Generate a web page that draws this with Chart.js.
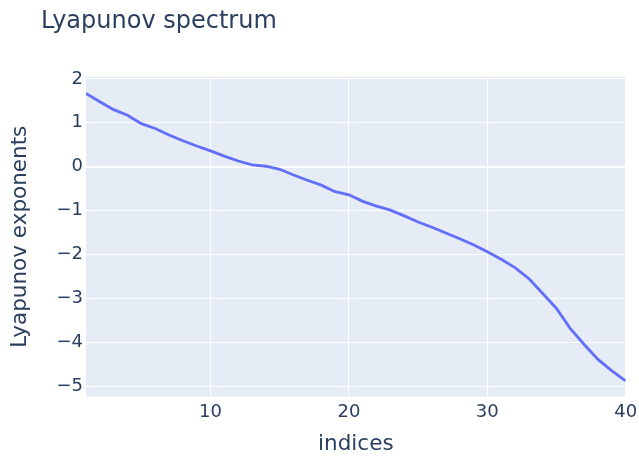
<!DOCTYPE html>
<html>
<head>
<meta charset="utf-8">
<script src="https://cdn.jsdelivr.net/npm/chart.js@4/dist/chart.umd.min.js"></script>
<style>
  html, body { margin: 0; padding: 0; background: #ffffff; }
  #wrap { width: 639px; height: 457px; }
</style>
</head>
<body>
<div id="wrap"><canvas id="c" width="639" height="457"></canvas></div>
<script>
// Lyapunov exponents, sorted from largest to smallest
const indices = [1, 2, 3, 4, 5, 6, 7, 8, 9, 10,
                 11, 12, 13, 14, 15, 16, 17, 18, 19, 20,
                 21, 22, 23, 24, 25, 26, 27, 28, 29, 30,
                 31, 32, 33, 34, 35, 36, 37, 38, 39, 40];
const exponents = [1.67, 1.48, 1.30, 1.17, 0.98, 0.87, 0.72, 0.59, 0.47, 0.36,
                   0.24, 0.13, 0.04, 0.01, -0.06, -0.19, -0.31, -0.42, -0.57, -0.64,
                   -0.79, -0.90, -0.99, -1.12, -1.26, -1.38, -1.51, -1.64, -1.78, -1.94,
                   -2.11, -2.30, -2.55, -2.89, -3.23, -3.69, -4.05, -4.39, -4.65, -4.88];
const xTicks = [10, 20, 30, 40];
const yTicks = [-5, -4, -3, -2, -1, 0, 1, 2];

const TEXT = '#2a3f5f';
const FONT = '"DejaVu Sans", Verdana, sans-serif';
const fmt = v => (v < 0 ? '\u2212' + Math.abs(v) : String(v));

// shaded plot area and the chart title
const frame = {
  id: 'frame',
  beforeDraw(chart) {
    const { ctx, chartArea: a } = chart;
    ctx.save();
    ctx.fillStyle = '#E5ECF6';
    ctx.fillRect(a.left, a.top, a.right - a.left, a.bottom - a.top);
    ctx.restore();
  },
  afterDraw(chart) {
    const ctx = chart.ctx;
    ctx.save();
    ctx.fillStyle = TEXT;
    ctx.font = '24px ' + FONT;
    ctx.textAlign = 'left';
    ctx.textBaseline = 'alphabetic';
    ctx.fillText('Lyapunov spectrum', 41, 27.5);
    ctx.restore();
  }
};

new Chart(document.getElementById('c'), {
  type: 'line',
  data: {
    datasets: [{
      data: indices.map((x, i) => ({ x: x, y: exponents[i] })),
      borderColor: '#636efa',
      borderWidth: 2.8,
      pointRadius: 0,
      pointHoverRadius: 0,
      tension: 0,
      fill: false
    }]
  },
  options: {
    responsive: false,
    animation: false,
    events: [],
    layout: { padding: { left: 0, right: 13.3, top: 76.7, bottom: 0 } },
    plugins: { legend: { display: false }, tooltip: { enabled: false }, title: { display: false } },
    scales: {
      x: {
        type: 'linear',
        min: 1,
        max: 40,
        afterBuildTicks: s => { s.ticks = xTicks.map(v => ({ value: v })); },
        afterFit: s => { s.height = 60.3; s.paddingLeft = 0; s.paddingRight = 0; },
        grid: { color: '#ffffff', lineWidth: 1, drawTicks: false },
        border: { display: false },
        ticks: { color: TEXT, font: { family: FONT, size: 18 }, padding: 5, maxRotation: 0, callback: v => fmt(v) },
        title: { display: true, text: 'indices', color: TEXT, font: { family: FONT, size: 21.5 }, padding: { top: 0, bottom: 0 } }
      },
      y: {
        min: -5.24,
        max: 2.05,
        afterBuildTicks: s => { s.ticks = yTicks.map(v => ({ value: v })); },
        afterFit: s => { s.width = 86; s.paddingTop = 0; s.paddingBottom = 0; },
        grid: {
          color: '#ffffff',
          lineWidth: ctx => (ctx.tick && ctx.tick.value === 0 ? 2 : 1),
          drawTicks: false
        },
        border: { display: false },
        ticks: { color: TEXT, font: { family: FONT, size: 18 }, padding: 3, callback: v => fmt(v) },
        title: { display: true, text: 'Lyapunov exponents', color: TEXT, font: { family: FONT, size: 21.5 }, padding: { top: 8, bottom: 0 } }
      }
    }
  },
  plugins: [frame]
});
</script>
</body>
</html>
